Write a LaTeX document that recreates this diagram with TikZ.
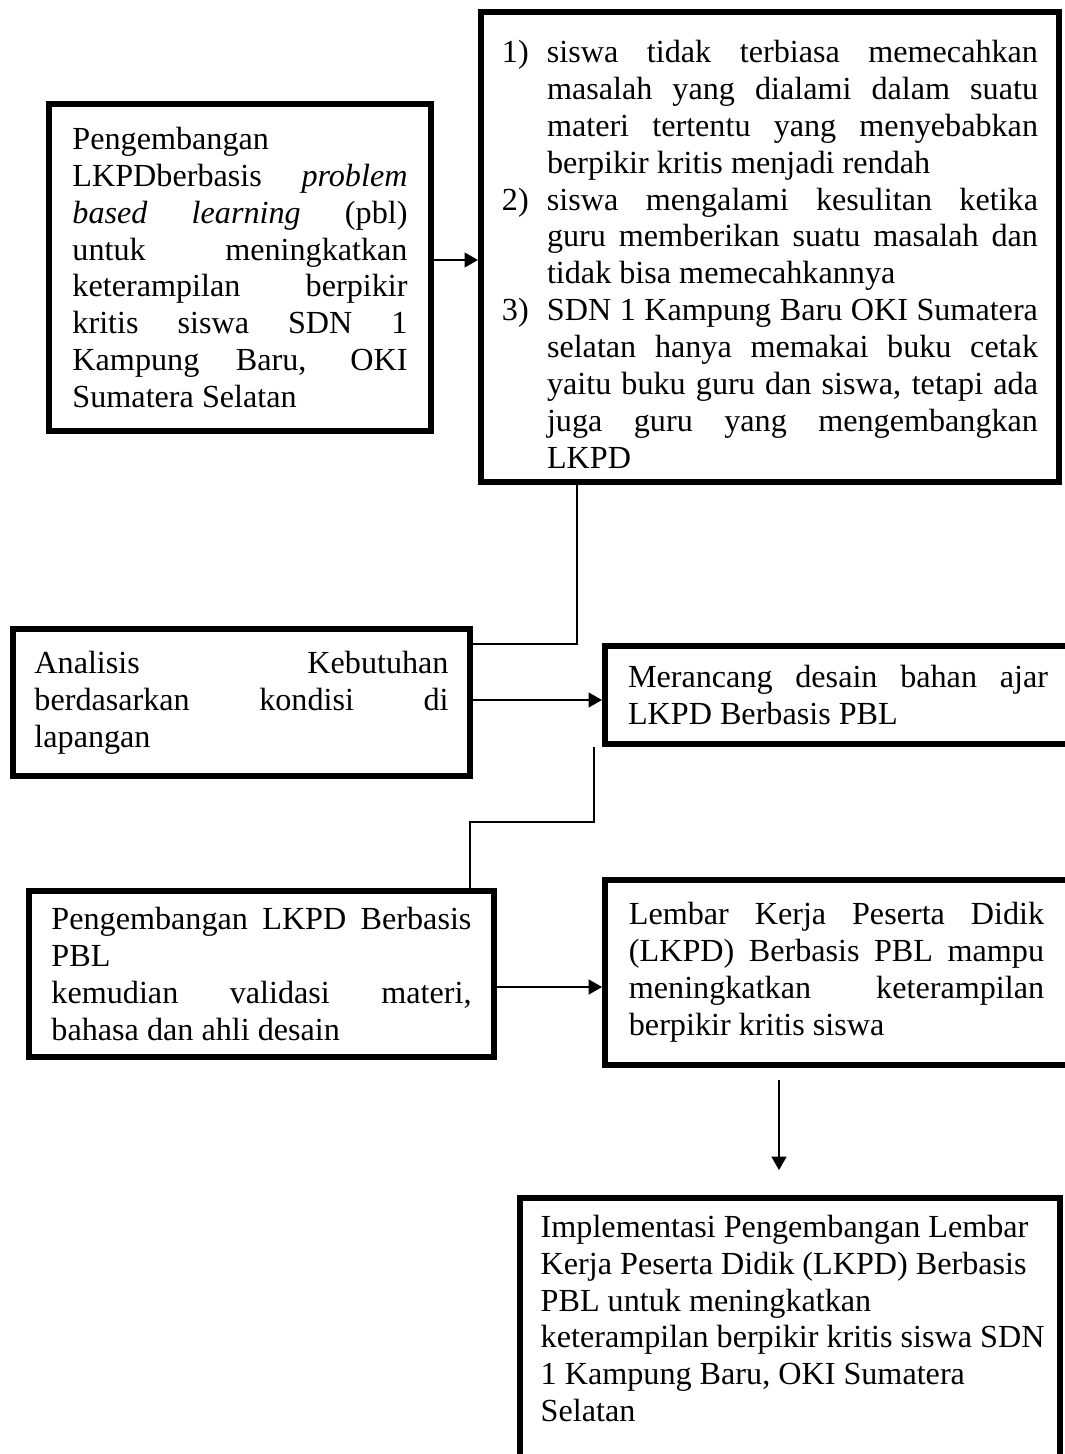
\documentclass[tikz,border=0pt]{standalone}
\usepackage{fontspec}
\setmainfont{Liberation Serif}
\usepackage{tikz}
\usetikzlibrary{arrows.meta}
\setlength\parindent{0pt}
\newcommand\itm[1]{\par\noindent\makebox[16.8pt][l]{#1)}\hangindent=16.8pt\hangafter=1\relax}
\tikzstyle{bx}=[draw,line width=2.2pt,inner sep=0pt,font=\fontsize{12}{13.75}\selectfont]
\tikzstyle{arrhead}=[>/.tip={Triangle[length=5pt,width=5.5pt]}]
\tikzstyle{ln} =[line width=.5pt]
\tikzstyle{arr}=[line width=.75pt,arrhead,->]

\begin{document}
\begin{tikzpicture}[x=0.3731pt,y=-0.3731pt]
	\useasboundingbox (0,0) rectangle (1064,1454);
	\node (a) [bx,minimum width=142.5pt,minimum height=122pt,text width=125pt,align=justify] at (240,267.5) {Pengembangan\linebreak
	  LKPDberbasis \textit{problem}\linebreak \textit{based learning} (pbl)\linebreak
	  untuk meningkatkan\linebreak keterampilan berpikir\linebreak kritis siswa SDN 1\linebreak
	  Kampung Baru, OKI\linebreak Sumatera Selatan};
	\node (b) [bx,minimum width=215.7pt,minimum height=175.4pt,text width=200pt,align=justify] at (770,247) {%
	  \itm{1}siswa tidak terbiasa memecahkan\linebreak masalah yang dialami dalam suatu\linebreak
	  materi tertentu yang menyebabkan\linebreak berpikir kritis menjadi rendah
	  \itm{2}siswa mengalami kesulitan ketika\linebreak guru memberikan suatu masalah dan\linebreak
	  tidak bisa memecahkannya
	  \itm{3}SDN 1 Kampung Baru OKI Sumatera\linebreak selatan hanya memakai buku cetak\linebreak
	  yaitu buku guru dan siswa, tetapi ada\linebreak juga guru yang mengembangkan\linebreak LKPD\par};
	\node (c) [bx,minimum width=170.5pt,minimum height=54.8pt,text width=154.5pt,align=justify] at (241.5,702.5) {Analisis Kebutuhan\linebreak
	  berdasarkan kondisi di\linebreak lapangan};
	\node (d) [bx,minimum width=173.9pt,minimum height=36.6pt,text width=156.7pt,align=justify] at (838,695) {Merancang desain bahan ajar\linebreak
	  LKPD Berbasis PBL};
	\node (e) [bx,minimum width=173.5pt,minimum height=61.9pt,text width=156.7pt,align=justify] at (261.5,974) {Pengembangan LKPD Berbasis\linebreak
	  PBL\par kemudian validasi materi,\linebreak bahasa dan ahli desain};
	\node (f) [bx,minimum width=172.7pt,minimum height=69pt,text width=154.9pt,align=justify] at (836.5,972.5) {Lembar Kerja Peserta Didik\linebreak
	  (LKPD) Berbasis PBL mampu\linebreak meningkatkan keterampilan\linebreak berpikir kritis siswa};
	\node (g) [bx,minimum width=201.5pt,minimum height=112.7pt] at (790,1349) {\parbox[c][100pt][t]{200pt}{\raggedright\leftskip=7pt
	  Implementasi Pengembangan Lembar\\ Kerja Peserta Didik (LKPD) Berbasis\\ PBL untuk meningkatkan\\
	  keterampilan berpikir kritis siswa SDN\\ 1 Kampung Baru, OKI Sumatera\\ Selatan}};
	\draw[arr] (a.east |- 0,260) -- (b.west |- 0,260);
	\draw[ln] (b.south -| 577,0) |- (c.east |- 0,644);
	\draw[arr] (c.east |- 0,700) -- (d.west |- 0,700);
	\draw[ln] ([xshift=-3pt]d.south west) -- ++(0,75) -| (e.north -| 470,0);
	\draw[arr] (e.east |- 0,987) -- (f.west |- 0,987);
	\draw[arr,shorten <=4.5pt,shorten >=9.3pt] (f.south -| 779,0) -- (g.north -| 779,0);
\end{tikzpicture}
\end{document}
